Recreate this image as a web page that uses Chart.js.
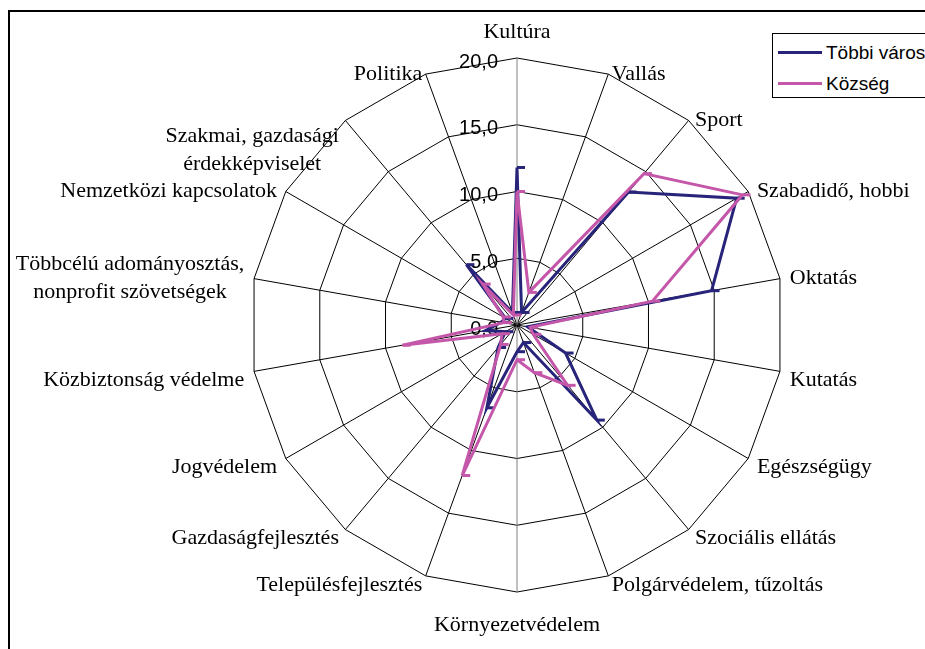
<!DOCTYPE html>
<html>
<head>
<meta charset="utf-8">
<script src="https://cdn.jsdelivr.net/npm/chart.js@4.4.1/dist/chart.umd.min.js"></script>
<style>
  body { margin: 0; background: #fff; }
  #wrap { position: relative; width: 925px; height: 649px; overflow: hidden; background: #fff; }
  #frame { position: absolute; left: 8px; top: 10px; width: 960px; height: 700px; border: 2px solid #000; }
  #chart { position: absolute; left: 0; top: 0; }
  #legend { position: absolute; left: 772px; top: 33px; width: 170px; height: 63px; border: 1px solid #000;
            background: #fff; font-family: "Liberation Sans", Arial, sans-serif; font-size: 19px; color: #000; }
  .item { position: absolute; left: 5px; height: 22px; line-height: 22px; white-space: nowrap; }
  .swatch { display: inline-block; width: 44px; height: 3px; vertical-align: middle; margin-right: 4px; position: relative; top: -1px; }
</style>
</head>
<body>
<div id="wrap">
  <div id="frame"></div>
  <canvas id="chart" width="925" height="649"></canvas>
  <div id="legend"></div>
</div>
<script>
// kategóriák (az óramutató járásával, felülről)
const categories = [
  'Kultúra', 'Vallás', 'Sport', 'Szabadidő, hobbi', 'Oktatás', 'Kutatás', 'Egészségügy',
  'Szociális ellátás', 'Polgárvédelem, tűzoltás', 'Környezetvédelem', 'Településfejlesztés',
  'Gazdaságfejlesztés', 'Jogvédelem', 'Közbiztonság védelme',
  ['Többcélú adományosztás,', 'nonprofit szövetségek'],
  'Nemzetközi kapcsolatok', ['Szakmai, gazdasági', 'érdekképviselet'], 'Politika'
];

const tobbiVaros = [11.8, 1.0, 13.0, 19.0, 14.8, 0.8, 4.2, 9.3, 1.4, 2.0, 6.6, 2.2, 1.0, 2.4, 1.2, 1.0, 5.9, 1.0];
const kozseg     = [10.0, 2.6, 14.8, 19.5, 10.3, 1.0, 1.4, 5.9, 3.8, 2.6, 12.0, 1.9, 1.3, 8.7, 1.0, 1.2, 4.0, 0.8];

const tickLabels = ['0,0', '5,0', '10,0', '15,0', '20,0'];

const BLUE = '#27247a';
const PINK = '#c457a9';

// kézi igazítás a kétsoros felirathoz (Excel lejjebb tette)
const labelNudge = { 16: 30 };

// saját feliratok: tengelyértékek és kategórianevek
const radarText = {
  id: 'radarText',
  beforeDatasetsDraw(chart) {
    const s = chart.scales.r;
    const ctx = chart.ctx;
    ctx.save();
    ctx.font = '20px "Liberation Sans", Arial, sans-serif';
    ctx.fillStyle = '#000';
    ctx.textAlign = 'right';
    ctx.textBaseline = 'middle';
    s.ticks.forEach(function(t) {
      const y = s.yCenter - s.getDistanceFromCenterForValue(t.value) + 4;
      ctx.fillText(t.label, s.xCenter - 19, y);
    });
    ctx.restore();
  },
  afterDraw(chart) {
    const s = chart.scales.r;
    const ctx = chart.ctx;
    const R = s.drawingArea;
    const n = chart.data.labels.length;
    ctx.save();
    ctx.font = '22px "Liberation Serif", "Times New Roman", serif';
    ctx.fillStyle = '#000';
    ctx.textAlign = 'center';
    ctx.textBaseline = 'middle';
    chart.data.labels.forEach(function(lab, i) {
      const lines = Array.isArray(lab) ? lab : [lab];
      const ang = i * 360 / n;
      const v = s.getPointPosition(i, R);
      const p = s.getPointPosition(i, R + 10);
      let align, cy;
      if (ang === 0) { align = 'center'; cy = v.y - 26; }
      else if (ang === 180) { align = 'center'; cy = v.y + 33; }
      else {
        align = ang < 180 ? 'left' : 'right';
        cy = Math.cos(ang * Math.PI / 180) > 0 ? v.y : v.y + 9;
      }
      cy += (labelNudge[i] || 0);
      const bw = Math.max.apply(null, lines.map(function(l) { return ctx.measureText(l).width; }));
      let cx = p.x;
      if (align === 'left') cx = p.x + bw / 2;
      if (align === 'right') cx = p.x - bw / 2;
      lines.forEach(function(l, k) {
        ctx.fillText(l, cx, cy + (k - (lines.length - 1) / 2) * 28);
      });
    });
    ctx.restore();
  }
};

const chart = new Chart(document.getElementById('chart'), {
  type: 'radar',
  data: {
    labels: categories,
    datasets: [
      {
        label: 'Többi város',
        data: tobbiVaros,
        borderColor: BLUE,
        backgroundColor: BLUE,
        borderWidth: 3,
        fill: false,
        tension: 0,
        pointStyle: 'dash',
        pointRadius: 8,
        pointBorderWidth: 3,
        pointBorderColor: BLUE,
        order: 1
      },
      {
        label: 'Község',
        data: kozseg,
        borderColor: PINK,
        backgroundColor: PINK,
        borderWidth: 3,
        fill: false,
        tension: 0,
        pointStyle: 'dash',
        pointRadius: 8,
        pointBorderWidth: 3,
        pointBorderColor: PINK,
        order: 0
      }
    ]
  },
  options: {
    responsive: false,
    animation: false,
    events: [],
    layout: { padding: { left: 250, right: 141, top: 58, bottom: 57 } },
    plugins: { legend: { display: false }, tooltip: { enabled: false } },
    scales: {
      r: {
        min: 0,
        max: 20,
        ticks: {
          stepSize: 5,
          display: false,
          callback: function(v, i) { return tickLabels[i]; }
        },
        grid: { color: '#000', lineWidth: 1 },
        angleLines: {
          color: function(c) { return (c.index === 0 || c.index === 9) ? '#808080' : '#000'; },
          lineWidth: 1
        },
        pointLabels: { display: false }
      }
    }
  },
  plugins: [radarText]
});

// jelmagyarázat a datasetekből
var legend = document.getElementById('legend');
chart.data.datasets.forEach(function(ds, i) {
  var item = document.createElement('div');
  item.className = 'item';
  item.style.top = (8 + i * 31) + 'px';
  var sw = document.createElement('span');
  sw.className = 'swatch';
  sw.style.backgroundColor = ds.borderColor;
  item.appendChild(sw);
  item.appendChild(document.createTextNode(ds.label));
  legend.appendChild(item);
});
</script>
</body>
</html>
